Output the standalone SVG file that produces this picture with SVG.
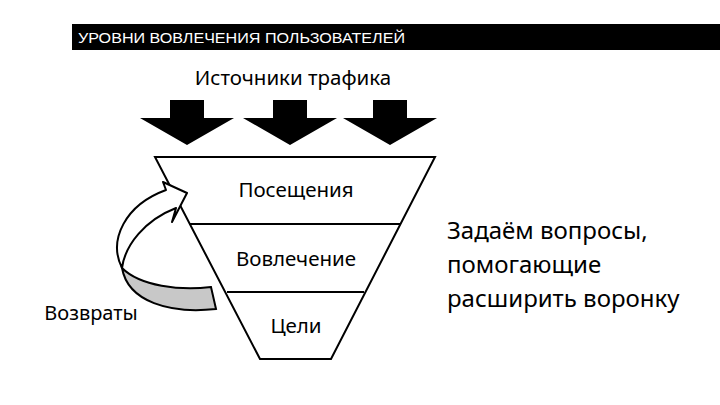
<svg xmlns="http://www.w3.org/2000/svg" width="720" height="405" viewBox="0 0 720 405">
<style>
.t{font-family:"Noto Sans","DejaVu Sans",sans-serif;fill:#000}
.ln{stroke:#000;stroke-width:2;fill:none}
</style>
<defs>
<polygon id="down" points="-17,0 17,0 17,18 47,18 0,45 -47,18 -17,18"/>
</defs>
<rect width="720" height="405" fill="#fff"/>
<g id="header">
<rect x="72" y="24" width="648" height="26" fill="#000"/>
<text x="78" y="43" font-family="Liberation Sans,Arial,sans-serif" font-size="15.5" fill="#fff" textLength="327" lengthAdjust="spacingAndGlyphs">УРОВНИ ВОВЛЕЧЕНИЯ ПОЛЬЗОВАТЕЛЕЙ</text>
</g>
<g id="sources">
<text class="t" x="293" y="85" font-size="20.5" text-anchor="middle">Источники трафика</text>
<use href="#down" x="187" y="100"/>
<use href="#down" x="290" y="100"/>
<use href="#down" x="390" y="100"/>
</g>
<g id="funnel">
<polygon class="ln" points="155,157 435,157 331,359 260,359"/>
<line class="ln" x1="189" y1="224" x2="401" y2="224"/>
<line class="ln" x1="227" y1="292" x2="364" y2="292"/>
</g>
<g id="visits"><text class="t" x="296" y="197" font-size="20.5" text-anchor="middle">Посещения</text></g>
<g id="engage"><text class="t" x="296" y="266" font-size="20.5" text-anchor="middle">Вовлечение</text></g>
<g id="goals"><text class="t" x="296" y="333" font-size="20.5" text-anchor="middle">Цели</text></g>
<g id="returns">
<path d="M122,268 C140,286 180,291 211,287 L216,309 C170,314 128,302 122,268 Z" fill="#c8c8c8" stroke="#000" stroke-width="2"/>
<path d="M122,268 C108,240 125,205 166,190 L163,182 L187,193 L172,222 L176,208 C145,220 125,245 122,268 Z" fill="#fff" stroke="#000" stroke-width="2" stroke-linejoin="round"/>
<text class="t" x="91" y="320" font-size="20" text-anchor="middle">Возвраты</text>
</g>
<g id="note">
<text class="t" x="447" y="239" font-size="24">Задаём вопросы,</text>
<text class="t" x="447" y="273" font-size="24">помогающие</text>
<text class="t" x="447" y="307" font-size="24">расширить воронку</text>
</g>
</svg>
